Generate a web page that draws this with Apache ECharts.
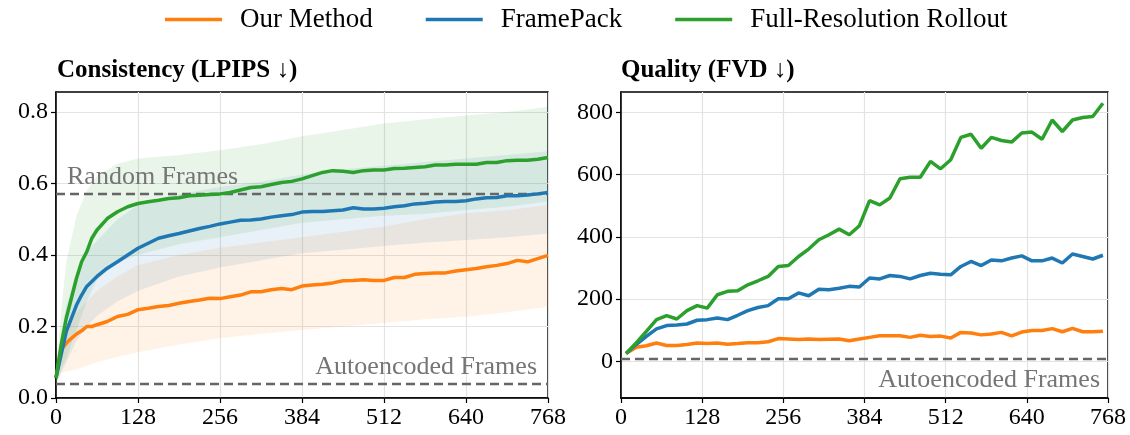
<!DOCTYPE html>
<html>
<head>
<meta charset="utf-8">
<script src="https://cdn.jsdelivr.net/npm/echarts@6/dist/echarts.min.js"></script>
<style>
  html, body { margin: 0; padding: 0; background: #fff; }
  #chart { width: 1130px; height: 435px; }
</style>
</head>
<body>
<div id="chart"></div>
<script>
// ---------- data ----------
const SERIES_NAMES = ['Our Method', 'FramePack', 'Full-Resolution Rollout'];
const COLORS = ['#ff7f0e', '#1f77b4', '#2ca02c'];

// Consistency (LPIPS) — mean curves
const LPIPS_FRAMES = [0, 8, 16, 24, 32, 40, 48, 56, 64, 80, 96, 112, 128, 144, 160, 176, 192, 208, 224, 240,
  256, 272, 288, 304, 320, 336, 352, 368, 384, 400, 416, 432, 448, 464, 480, 496, 512, 528, 544, 560,
  576, 592, 608, 624, 640, 656, 672, 688, 704, 720, 736, 752, 768];
const LPIPS_OURS = [0.056, 0.135, 0.153, 0.167, 0.179, 0.188, 0.200, 0.200, 0.205, 0.214, 0.228, 0.234, 0.247,
  0.251, 0.256, 0.259, 0.265, 0.270, 0.274, 0.279, 0.278, 0.283, 0.288, 0.297, 0.297, 0.303, 0.306, 0.303,
  0.313, 0.316, 0.318, 0.322, 0.328, 0.329, 0.331, 0.329, 0.329, 0.337, 0.337, 0.346, 0.348, 0.350, 0.350,
  0.355, 0.359, 0.362, 0.367, 0.371, 0.376, 0.385, 0.381, 0.390, 0.399];
const LPIPS_FRAMEPACK = [0.056, 0.121, 0.186, 0.223, 0.260, 0.288, 0.312, 0.326, 0.340, 0.363, 0.381, 0.400,
  0.419, 0.433, 0.447, 0.454, 0.460, 0.467, 0.474, 0.480, 0.487, 0.492, 0.497, 0.498, 0.501, 0.506, 0.510,
  0.513, 0.520, 0.522, 0.522, 0.524, 0.526, 0.532, 0.529, 0.529, 0.531, 0.535, 0.538, 0.543, 0.545, 0.548,
  0.550, 0.550, 0.552, 0.557, 0.560, 0.561, 0.566, 0.566, 0.568, 0.571, 0.575];
const LPIPS_FULLRES = [0.056, 0.149, 0.223, 0.279, 0.335, 0.381, 0.409, 0.447, 0.470, 0.502, 0.521, 0.535,
  0.544, 0.549, 0.553, 0.558, 0.560, 0.566, 0.567, 0.569, 0.571, 0.575, 0.582, 0.589, 0.591, 0.597, 0.603,
  0.606, 0.613, 0.622, 0.631, 0.636, 0.634, 0.631, 0.636, 0.638, 0.638, 0.642, 0.643, 0.645, 0.647, 0.652,
  0.652, 0.654, 0.654, 0.654, 0.659, 0.659, 0.664, 0.665, 0.665, 0.668, 0.673];

// Consistency (LPIPS) — spread bands
const BAND_FRAMES = [0, 8, 16, 32, 48, 64, 96, 128, 192, 256, 320, 384, 448, 512, 576, 640, 704, 768];
const OURS_UPPER = [0.07, 0.17, 0.20, 0.24, 0.27, 0.30, 0.34, 0.372, 0.40, 0.42, 0.435, 0.45, 0.465, 0.48, 0.50, 0.517, 0.525, 0.54];
const OURS_LOWER = [0.04, 0.07, 0.075, 0.08, 0.09, 0.10, 0.115, 0.128, 0.15, 0.167, 0.18, 0.19, 0.20, 0.21, 0.22, 0.227, 0.24, 0.255];
const FRAMEPACK_UPPER = [0.07, 0.18, 0.26, 0.35, 0.41, 0.44, 0.50, 0.54, 0.57, 0.59, 0.605, 0.625, 0.64, 0.65, 0.66, 0.67, 0.68, 0.69];
const FRAMEPACK_LOWER = [0.04, 0.07, 0.10, 0.16, 0.20, 0.23, 0.27, 0.30, 0.34, 0.365, 0.385, 0.405, 0.415, 0.425, 0.435, 0.442, 0.45, 0.46];
const FULLRES_UPPER = [0.07, 0.24, 0.38, 0.51, 0.58, 0.62, 0.655, 0.67, 0.68, 0.693, 0.71, 0.732, 0.75, 0.768, 0.78, 0.79, 0.80, 0.815];
const FULLRES_LOWER = [0.04, 0.08, 0.11, 0.19, 0.27, 0.33, 0.38, 0.40, 0.43, 0.45, 0.47, 0.49, 0.50, 0.51, 0.515, 0.526, 0.535, 0.55];

const LPIPS_RANDOM = 0.569;
const LPIPS_AUTOENC = 0.036;

// Quality (FVD)
const FVD_FRAMES = [8, 24, 40, 56, 72, 88, 104, 120, 136, 152, 168, 184, 200, 216, 232, 248, 264, 280, 296, 312,
  328, 344, 360, 376, 392, 408, 424, 440, 456, 472, 488, 504, 520, 536, 552, 568, 584, 600, 616, 632,
  648, 664, 680, 696, 712, 728, 744, 760];
const FVD_OURS = [25, 45, 50, 59, 51, 51, 54, 59, 57, 59, 55, 57, 60, 60, 63, 73, 72, 70, 72, 70,
  71, 72, 66, 72, 77, 82, 82, 82, 77, 84, 80, 81, 75, 93, 91, 85, 88, 93, 82, 94,
  99, 99, 105, 95, 106, 95, 95, 97];
const FVD_FRAMEPACK = [25, 54, 80, 104, 115, 117, 120, 132, 134, 139, 134, 148, 163, 173, 179, 201, 201, 220, 211, 232,
  230, 235, 241, 239, 268, 265, 276, 273, 265, 276, 283, 280, 278, 305, 321, 308, 326, 323, 332, 339,
  323, 323, 332, 316, 345, 337, 329, 341];
const FVD_FULLRES = [25, 59, 96, 134, 147, 136, 163, 179, 171, 214, 225, 227, 246, 259, 273, 305, 308, 337, 361, 391,
  407, 425, 407, 436, 517, 503, 525, 587, 592, 592, 643, 619, 648, 720, 730, 685, 720, 710, 705, 734,
  737, 714, 776, 739, 776, 784, 787, 830];
const FVD_AUTOENC = 7;

const X_TICKS = [0, 128, 256, 384, 512, 640, 768];
const LPIPS_TICKS = [0.0, 0.2, 0.4, 0.6, 0.8];
const FVD_TICKS = [0, 200, 400, 600, 800];

// ---------- chart ----------
const FONT = "'Liberation Serif', 'DejaVu Serif', serif";
const pairs = (xs, ys) => xs.map((x, i) => [x, ys[i]]);

function band(gridIdx, upper, lower, fill) {
  return {
    type: 'custom', xAxisIndex: gridIdx, yAxisIndex: gridIdx, silent: true, z: 1,
    data: [[0, 0]],
    renderItem: function (params, api) {
      const pts = [];
      for (let i = 0; i < BAND_FRAMES.length; i++) pts.push(api.coord([BAND_FRAMES[i], upper[i]]));
      for (let i = BAND_FRAMES.length - 1; i >= 0; i--) pts.push(api.coord([BAND_FRAMES[i], lower[i]]));
      return { type: 'polygon', shape: { points: pts }, style: { fill: fill } };
    }
  };
}

function lineSeries(name, gridIdx, xs, ys, color, extra) {
  return Object.assign({
    name: name, type: 'line', xAxisIndex: gridIdx, yAxisIndex: gridIdx,
    data: pairs(xs, ys), showSymbol: false, symbol: 'none', z: 3,
    lineStyle: { color: color, width: 3.5 }, itemStyle: { color: color }
  }, extra || {});
}

const dashStyle = { type: [9, 5], color: '#666', width: 2.4 };
const annoLabel = { color: '#757575', fontFamily: FONT, fontSize: 26 };

function xAxis(gridIdx) {
  return {
    type: 'value', gridIndex: gridIdx, min: 0, max: 768, interval: 128,
    axisLine: { show: true, onZero: false, lineStyle: { color: '#000', width: 1.5 } },
    axisTick: { show: true, length: 5, lineStyle: { color: '#000', width: 1.2 } },
    axisLabel: { customValues: X_TICKS, color: '#000', fontFamily: FONT, fontSize: 24, margin: 8 },
    splitLine: { show: true, lineStyle: { color: '#e3e3e3', width: 1.2 } }
  };
}

const option = {
  animation: false,
  backgroundColor: '#fff',
  legend: {
    top: 1, left: 160, icon: 'rect', itemWidth: 57, itemHeight: 3.5, itemGap: 53,
    data: SERIES_NAMES,
    textStyle: { color: '#000', fontFamily: FONT, fontSize: 27, padding: [0, 0, 0, 13] }
  },
  title: [
    { text: 'Consistency (LPIPS ↓)', left: 52, top: 53, textStyle: { fontFamily: FONT, fontWeight: 'bold', fontSize: 25, color: '#000' } },
    { text: 'Quality (FVD ↓)', left: 616, top: 53, textStyle: { fontFamily: FONT, fontWeight: 'bold', fontSize: 25, color: '#000' } }
  ],
  grid: [
    { left: 56, right: 582, top: 92, bottom: 37, show: true, borderColor: '#000', borderWidth: 1.5, backgroundColor: 'transparent' },
    { left: 621, right: 22, top: 92, bottom: 37, show: true, borderColor: '#000', borderWidth: 1.5, backgroundColor: 'transparent' }
  ],
  xAxis: [xAxis(0), xAxis(1)],
  yAxis: [
    {
      type: 'value', gridIndex: 0, min: 0, max: 0.856,
      axisLine: { show: true, onZero: false, lineStyle: { color: '#000', width: 1.5 } },
      axisTick: { show: true, length: 5, customValues: LPIPS_TICKS, lineStyle: { color: '#000', width: 1.2 } },
      axisLabel: { customValues: LPIPS_TICKS, color: '#000', fontFamily: FONT, fontSize: 24, margin: 8,
        formatter: v => Number(v).toFixed(1) },
      splitLine: { show: true, lineStyle: { color: '#e3e3e3', width: 1.2 } }
    },
    {
      type: 'value', gridIndex: 1, min: -118, max: 866,
      axisLine: { show: true, onZero: false, lineStyle: { color: '#000', width: 1.5 } },
      axisTick: { show: true, length: 5, customValues: FVD_TICKS, lineStyle: { color: '#000', width: 1.2 } },
      axisLabel: { customValues: FVD_TICKS, color: '#000', fontFamily: FONT, fontSize: 24, margin: 8,
        formatter: v => String(Math.round(v)) },
      splitLine: { show: true, lineStyle: { color: '#e3e3e3', width: 1.2 } }
    }
  ],
  series: [
    band(0, OURS_UPPER, OURS_LOWER, 'rgba(255,127,14,0.10)'),
    band(0, FRAMEPACK_UPPER, FRAMEPACK_LOWER, 'rgba(31,119,180,0.10)'),
    band(0, FULLRES_UPPER, FULLRES_LOWER, 'rgba(44,160,44,0.10)'),
    lineSeries(SERIES_NAMES[0], 0, LPIPS_FRAMES, LPIPS_OURS, COLORS[0], {
      markLine: {
        silent: true, symbol: 'none', lineStyle: dashStyle, z: 2,
        data: [
          { yAxis: LPIPS_RANDOM, label: Object.assign({ formatter: 'Random Frames', position: 'insideStartTop', distance: [11, 4] }, annoLabel) },
          { yAxis: LPIPS_AUTOENC, label: Object.assign({ formatter: 'Autoencoded Frames', position: 'insideEndTop', distance: [11, 4] }, annoLabel) }
        ]
      }
    }),
    lineSeries(SERIES_NAMES[1], 0, LPIPS_FRAMES, LPIPS_FRAMEPACK, COLORS[1]),
    lineSeries(SERIES_NAMES[2], 0, LPIPS_FRAMES, LPIPS_FULLRES, COLORS[2]),
    lineSeries(SERIES_NAMES[0], 1, FVD_FRAMES, FVD_OURS, COLORS[0], {
      markLine: {
        silent: true, symbol: 'none', lineStyle: dashStyle, z: 2,
        data: [
          { yAxis: FVD_AUTOENC, label: Object.assign({ formatter: 'Autoencoded Frames', position: 'insideEndBottom', distance: [8, 8] }, annoLabel) }
        ]
      }
    }),
    lineSeries(SERIES_NAMES[1], 1, FVD_FRAMES, FVD_FRAMEPACK, COLORS[1]),
    lineSeries(SERIES_NAMES[2], 1, FVD_FRAMES, FVD_FULLRES, COLORS[2])
  ]
};

const chart = echarts.init(document.getElementById('chart'), null, { renderer: 'canvas' });
chart.setOption(option);
</script>
</body>
</html>
